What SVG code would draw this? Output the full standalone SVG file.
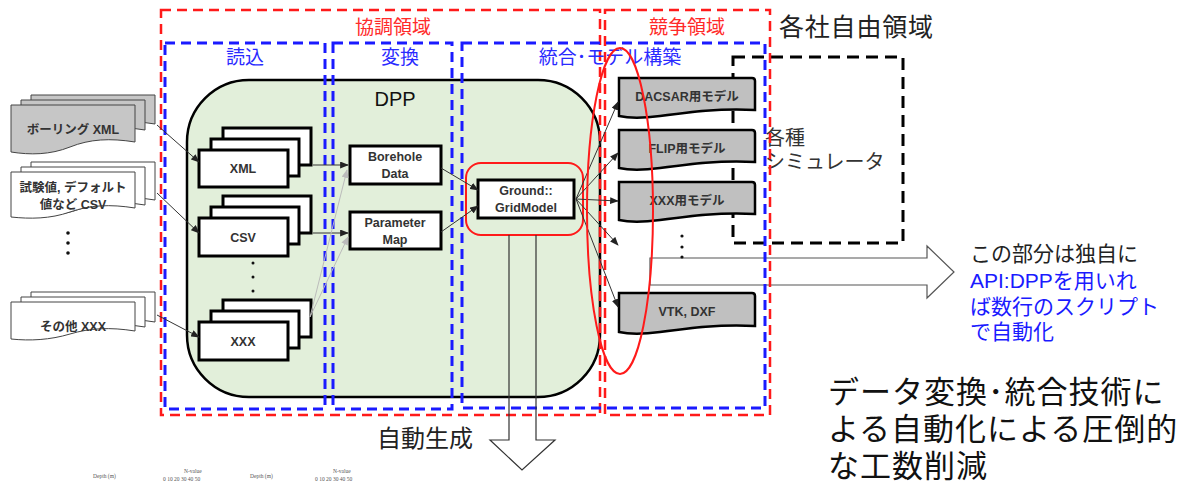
<svg xmlns="http://www.w3.org/2000/svg" width="1192" height="483" viewBox="0 0 1192 483">
<style>
text{font-family:"Liberation Sans","Noto Sans CJK JP",sans-serif}
.red{fill:none;stroke:#ff1a1a;stroke-width:2.5;stroke-dasharray:10 6}
.blue{fill:none;stroke:#1a1aff;stroke-width:3;stroke-dasharray:10 6}
.rl{fill:#ff2a2a;font-size:19px;text-anchor:middle}
.bl{fill:#2a2aff;font-size:19px;text-anchor:middle}
.stk{fill:#fff;stroke:#000;stroke-width:3}
.ldoc{stroke:#444;stroke-width:1}
.rdoc{fill:#c0c0c0;stroke:#000;stroke-width:2.5}
.bt{font-size:12.5px;font-weight:bold;fill:#333;text-anchor:middle}
.box{fill:#fff;stroke:#000;stroke-width:3}
.con{stroke:#333;stroke-width:1;fill:none;marker-end:url(#ah)}
.gcon{stroke:#bbb;stroke-width:1;fill:none;marker-end:url(#ahg)}
.tiny{font-family:"Liberation Serif",serif;font-size:5.5px;fill:#555}
</style>
<defs>
<marker id="ah" viewBox="0 0 10 8" refX="9" refY="4" markerWidth="9" markerHeight="7" orient="auto" markerUnits="userSpaceOnUse"><path d="M0,0 L10,4 L0,8 Z" fill="#222"/></marker>
<marker id="ahg" viewBox="0 0 10 8" refX="9" refY="4" markerWidth="9" markerHeight="7" orient="auto" markerUnits="userSpaceOnUse"><path d="M0,0 L10,4 L0,8 Z" fill="#bbb"/></marker>
</defs>
<rect width="1192" height="483" fill="#fff"/>

<!-- DPP container -->
<g id="dpp">
<rect x="187" y="80" width="413" height="317" rx="62" ry="62" fill="#e2efda" stroke="#000" stroke-width="2.5"/>
<text x="395" y="106" font-size="20" text-anchor="middle" fill="#111">DPP</text>
</g>

<!-- big right arrow -->
<g id="api-arrow">
<polygon points="650,258 927,258 927,246 954,272 927,298 927,285 650,285" fill="#fff" stroke="#555" stroke-width="1.2"/>
</g>

<!-- simulator dashed box -->
<g id="simulator">
<rect x="733" y="57" width="170" height="186" fill="none" stroke="#000" stroke-width="3" stroke-dasharray="12 7"/>
<text x="765" y="145" font-size="20" fill="#333">各種</text>
<text x="765" y="169" font-size="20" fill="#333">シミュレータ</text>
</g>

<!-- region frames -->
<g id="regions">
<rect class="red" x="161" y="10" width="439" height="405"/>
<rect class="red" x="605" y="10" width="165" height="405"/>
<rect class="blue" x="165" y="43" width="160" height="366"/>
<rect class="blue" x="333" y="43" width="119" height="366"/>
<rect class="blue" x="462" y="43" width="303" height="365"/>
<text class="rl" x="393" y="34">協調領域</text>
<text class="rl" x="687" y="34">競争領域</text>
<text class="bl" x="245" y="64">読込</text>
<text class="bl" x="400" y="64">変換</text>
<text class="bl" x="610" y="64">統合･モデル構築</text>
<text x="779" y="36" font-size="25" fill="#222" letter-spacing="0.8">各社自由領域</text>
</g>

<!-- left input documents -->
<g id="in-boring">
<path class="ldoc" fill="#c6c6c6" d="M31,95 H155 V124 C130,120 110,121 90,130 C70,138 50,140 31,139 Z"/>
<path class="ldoc" fill="#c6c6c6" d="M21,100 H145 V130 C120,126 100,127 80,135 C60,143 40,145 21,144 Z"/>
<path class="ldoc" fill="#c6c6c6" d="M11,105 H135 V142 C110,138 90,139 70,147 C50,155 30,155 11,152 Z"/>
<text class="bt" x="73" y="134" font-size="13">ボーリング XML</text>
</g>
<g id="in-csv">
<path class="ldoc" fill="#fff" d="M31,162 H155 V200 C130,196 110,197 90,204 C70,211 50,212 31,210 Z"/>
<path class="ldoc" fill="#fff" d="M21,167 H145 V205 C120,201 100,202 80,209 C60,216 40,217 21,215 Z"/>
<path class="ldoc" fill="#fff" d="M11,172 H135 V208 C110,204 90,205 70,212 C50,219 30,219 11,217 Z"/>
<text class="bt" x="73" y="192" font-size="13">試験値, デフォルト</text>
<text class="bt" x="73" y="209" font-size="13">値など CSV</text>
</g>
<g id="in-dots">
<circle cx="68" cy="233" r="1.8" fill="#111"/><circle cx="68" cy="243" r="1.8" fill="#111"/><circle cx="68" cy="253" r="1.8" fill="#111"/>
</g>
<g id="in-other">
<path class="ldoc" fill="#fff" d="M31,292 H155 V322 C130,318 110,319 90,325 C70,331 50,332 31,330 Z"/>
<path class="ldoc" fill="#fff" d="M21,297 H145 V327 C120,323 100,324 80,330 C60,336 40,337 21,335 Z"/>
<path class="ldoc" fill="#fff" d="M11,302 H135 V331 C110,327 90,328 70,334 C50,340 30,341 11,339 Z"/>
<text class="bt" x="73" y="331" font-size="13">その他 XXX</text>
</g>

<!-- reader stacks -->
<g id="stack-xml">
<rect class="stk" x="223" y="128" width="88" height="37"/>
<rect class="stk" x="211" y="139" width="88" height="37"/>
<rect class="stk" x="199" y="150" width="89" height="37"/>
<text class="bt" x="243" y="173">XML</text>
</g>
<g id="stack-csv">
<rect class="stk" x="223" y="196" width="88" height="37"/>
<rect class="stk" x="211" y="207" width="88" height="37"/>
<rect class="stk" x="199" y="218" width="89" height="38"/>
<text class="bt" x="243" y="242">CSV</text>
</g>
<g id="stack-dots">
<circle cx="253" cy="263" r="1.5" fill="#111"/><circle cx="253" cy="277" r="1.5" fill="#111"/><circle cx="253" cy="291" r="1.5" fill="#111"/>
</g>
<g id="stack-xxx">
<rect class="stk" x="223" y="300" width="88" height="37"/>
<rect class="stk" x="211" y="311" width="88" height="37"/>
<rect class="stk" x="199" y="322" width="89" height="38"/>
<text class="bt" x="243" y="346">XXX</text>
</g>

<!-- convert boxes -->
<g id="borehole">
<rect class="box" x="350" y="146" width="91" height="38"/>
<text class="bt" x="395" y="161">Borehole</text>
<text class="bt" x="395" y="178">Data</text>
</g>
<g id="parammap">
<rect class="box" x="350" y="212" width="91" height="37"/>
<text class="bt" x="395" y="227">Parameter</text>
<text class="bt" x="395" y="244">Map</text>
</g>

<!-- integration -->
<g id="gridmodel">
<rect x="466" y="163" width="117" height="72" rx="15" ry="15" fill="none" stroke="#ff1a1a" stroke-width="2"/>
<rect class="box" x="478" y="180" width="96" height="38"/>
<text class="bt" x="526" y="195">Ground::</text>
<text class="bt" x="526" y="212">GridModel</text>
</g>

<!-- auto generation arrow -->
<g id="autogen">
<polyline points="509,235 509,440 490,440 522,470 555,440 536,440 536,235" fill="none" stroke="#333" stroke-width="1.2"/>
<text x="377" y="447" font-size="24" fill="#222">自動生成</text>
</g>

<!-- output documents -->
<g id="out-dacsar">
<path class="rdoc" d="M619,78 H752 Q755,78 755,81 V110 C720,108 690,112 660,116 C645,118 632,119 619,116 Z"/>
<text class="bt" x="687" y="101" font-size="13">DACSAR用モデル</text>
</g>
<g id="out-flip">
<path class="rdoc" d="M619,130 H752 Q755,130 755,133 V162 C720,160 690,164 660,168 C645,170 632,171 619,168 Z"/>
<text class="bt" x="687" y="153" font-size="13">FLIP用モデル</text>
</g>
<g id="out-xxx">
<path class="rdoc" d="M619,182 H752 Q755,182 755,185 V214 C720,212 690,216 660,220 C645,222 632,223 619,220 Z"/>
<text class="bt" x="687" y="205" font-size="13">XXX用モデル</text>
</g>
<g id="out-dots">
<circle cx="682" cy="236" r="1.6" fill="#111"/><circle cx="682" cy="247" r="1.6" fill="#111"/><circle cx="682" cy="257" r="1.6" fill="#111"/>
</g>
<g id="out-vtk">
<path class="rdoc" d="M619,293 H752 Q755,293 755,296 V326 C720,324 690,328 660,332 C645,334 632,335 619,332 Z"/>
<text class="bt" x="687" y="316" font-size="13">VTK, DXF</text>
</g>

<!-- connectors -->
<g id="connectors">
<line class="con" x1="157" y1="125" x2="199" y2="162"/>
<line class="con" x1="157" y1="193" x2="199" y2="233"/>
<line class="con" x1="157" y1="315" x2="199" y2="337"/>
<line class="con" x1="313" y1="165" x2="348" y2="165"/>
<line class="con" x1="313" y1="233" x2="348" y2="233"/>
<line class="gcon" x1="310" y1="317" x2="347" y2="170"/>
<line class="gcon" x1="310" y1="317" x2="348" y2="237"/>
<line class="con" x1="441" y1="168" x2="478" y2="190"/>
<line class="con" x1="441" y1="232" x2="478" y2="206"/>
<line class="con" x1="576" y1="199" x2="618" y2="102"/>
<line class="con" x1="576" y1="199" x2="618" y2="153"/>
<line class="con" x1="576" y1="199" x2="618" y2="201"/>
<line class="con" x1="576" y1="199" x2="618" y2="245"/>
<line class="con" x1="576" y1="199" x2="618" y2="307"/>
</g>

<!-- red ellipse highlight -->
<g id="highlight">
<ellipse cx="620" cy="211" rx="33" ry="163" fill="none" stroke="#ff1a1a" stroke-width="2"/>
</g>

<!-- right texts -->
<g id="api-note">
<text x="970" y="261" font-size="21" fill="#222">この部分は独自に</text>
<text x="970" y="288" font-size="21" fill="#1a1aff">API:DPPを用いれ</text>
<text x="970" y="314" font-size="21" fill="#1a1aff">ば数行のスクリプト</text>
<text x="970" y="339" font-size="21" fill="#1a1aff">で自動化</text>
</g>
<g id="summary">
<text x="828" y="403" font-size="31" fill="#111" letter-spacing="1">データ変換･統合技術に</text>
<text x="828" y="440" font-size="31" fill="#111" letter-spacing="1">よる自動化による圧倒的</text>
<text x="828" y="477" font-size="31" fill="#111" letter-spacing="1">な工数削減</text>
</g>

<!-- tiny chart labels -->
<g id="chart-fragment">
<text class="tiny" x="93" y="478">Depth (m)</text>
<text class="tiny" x="184" y="473">N-value</text>
<text class="tiny" x="163" y="481">0  10 20 30 40 50</text>
<text class="tiny" x="250" y="478">Depth (m)</text>
<text class="tiny" x="333" y="473">N-value</text>
<text class="tiny" x="315" y="481">0  10 20 30 40 50</text>
</g>
</svg>
